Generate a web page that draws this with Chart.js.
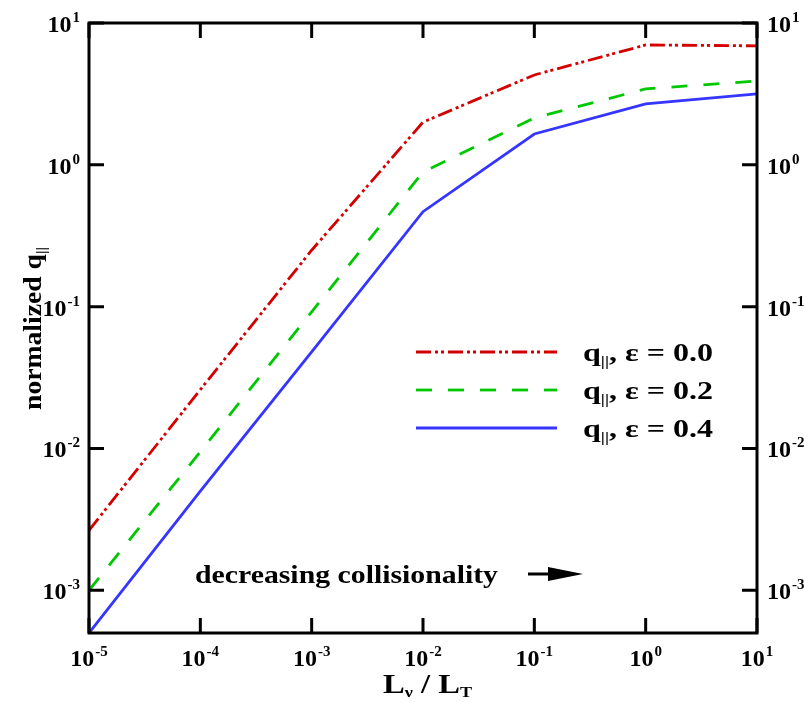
<!DOCTYPE html>
<html>
<head>
<meta charset="utf-8">
<script src="https://cdn.jsdelivr.net/npm/chart.js@4.4.0/dist/chart.umd.min.js"></script>
<style>
  html, body { margin: 0; padding: 0; background: #fff; }
  canvas { display: block; }
</style>
</head>
<body>
<canvas id="myChart" width="804" height="702"></canvas>
<script>
// L_nu / L_T sample points
const xValues = [1e-5, 1e-4, 1e-3, 1e-2, 1e-1, 1, 10];

// normalized q_par for each epsilon
const qEps00 = [2.65e-3, 0.026, 0.25, 2.0, 4.3, 7.0, 6.9];
const qEps02 = [1.0e-3, 0.0095, 0.092, 0.89, 2.14, 3.43, 3.9];
const qEps04 = [5.0e-4, 5.0e-3, 0.048, 0.467, 1.65, 2.69, 3.16];

const legendEps = ['0.0', '0.2', '0.4'];

// decade ticks (exponents)
const xTickExps = [-5, -4, -3, -2, -1, 0, 1];
const yTickExps = [-3, -2, -1, 0, 1];

const FONT = '"Liberation Serif", "Times New Roman", serif';
const BIG = 'bold 26px ' + FONT;
const SUB = 'bold 15px ' + FONT;

function toPoints(ys) {
    return xValues.map((x, i) => ({ x: x, y: ys[i] }));
}

// draws "10" with a superscript exponent
function drawPow(ctx, exp, x, y, align) {
    const baseFont = 'bold 24px ' + FONT;
    const supFont = 'bold 15px ' + FONT;
    ctx.font = baseFont;
    const wb = ctx.measureText('10').width;
    ctx.font = supFont;
    const ws = ctx.measureText(String(exp)).width + 1;
    const total = wb + ws;
    let left = x;
    if (align === 'center') left = x - total / 2;
    if (align === 'right') left = x - total;
    ctx.textAlign = 'left';
    ctx.textBaseline = 'alphabetic';
    ctx.font = baseFont;
    ctx.fillText('10', left, y);
    ctx.font = supFont;
    ctx.fillText(String(exp), left + wb + 1, y - 10);
}

// draws runs of text (with sub/superscripts) stretched to a given width
function drawRuns(ctx, runs, x, y, width) {
    let natural = 0;
    runs.forEach(r => { ctx.font = r.font; natural += ctx.measureText(r.text).width; });
    const sx = width ? width / natural : 1;
    ctx.save();
    ctx.translate(x, y);
    ctx.scale(sx, 1);
    ctx.textAlign = 'left';
    ctx.textBaseline = 'alphabetic';
    let cx = 0;
    runs.forEach(r => {
        ctx.font = r.font;
        ctx.fillText(r.text, cx, r.dy || 0);
        cx += ctx.measureText(r.text).width;
    });
    ctx.restore();
}

const framePlugin = {
    id: 'frame',
    afterDraw(chart) {
        const ctx = chart.ctx;
        const a = chart.chartArea;
        const xs = chart.scales.x;
        const ys = chart.scales.y;
        ctx.save();
        ctx.fillStyle = '#000';
        ctx.strokeStyle = '#000';

        // box
        ctx.lineWidth = 3;
        ctx.strokeRect(a.left, a.top, a.right - a.left, a.bottom - a.top);

        // inward ticks
        const tl = 15;
        ctx.beginPath();
        xTickExps.forEach(e => {
            const px = xs.getPixelForValue(Math.pow(10, e));
            ctx.moveTo(px, a.bottom); ctx.lineTo(px, a.bottom - tl);
            ctx.moveTo(px, a.top); ctx.lineTo(px, a.top + tl);
        });
        yTickExps.forEach(e => {
            const py = ys.getPixelForValue(Math.pow(10, e));
            ctx.moveTo(a.left, py); ctx.lineTo(a.left + tl, py);
            ctx.moveTo(a.right, py); ctx.lineTo(a.right - tl, py);
        });
        ctx.stroke();

        // tick labels
        xTickExps.forEach(e => {
            const px = xs.getPixelForValue(Math.pow(10, e));
            drawPow(ctx, e, px, a.bottom + 33, 'center');
        });
        yTickExps.forEach(e => {
            const py = ys.getPixelForValue(Math.pow(10, e));
            drawPow(ctx, e, a.left - 9, py + 9, 'right');
            drawPow(ctx, e, a.right + 10, py + 9, 'left');
        });

        // x title: L_nu / L_T
        drawRuns(ctx, [
            { text: 'L', font: 'bold 27px ' + FONT },
            { text: '\u03bd', font: SUB, dy: 4 },
            { text: ' / L', font: 'bold 27px ' + FONT },
            { text: 'T', font: SUB, dy: 4 }
        ], 383, a.bottom + 60, 89);

        // y title: normalized q_||
        ctx.save();
        ctx.translate(41, 410);
        ctx.rotate(-Math.PI / 2);
        drawRuns(ctx, [
            { text: 'normalized q', font: BIG },
            { text: '||', font: SUB, dy: 5 }
        ], 0, 0, 163);
        ctx.restore();

        // legend
        const lx0 = 416, lx1 = 557, tx = 583;
        const rows = [352, 390, 428];
        chart.data.datasets.forEach((ds, i) => {
            const y = rows[i];
            ctx.save();
            ctx.strokeStyle = ds.borderColor;
            ctx.lineWidth = ds.borderWidth;
            ctx.setLineDash(ds.borderDash || []);
            ctx.beginPath();
            ctx.moveTo(lx0, y); ctx.lineTo(lx1, y);
            ctx.stroke();
            ctx.restore();
            drawRuns(ctx, [
                { text: 'q', font: BIG },
                { text: '||', font: SUB, dy: 5 },
                { text: ', \u03b5 = ' + legendEps[i], font: BIG }
            ], tx, y + 9, 130);
        });

        // annotation
        drawRuns(ctx, [{ text: 'decreasing collisionality', font: BIG }], 195, 583, 303);
        ctx.lineWidth = 3;
        ctx.beginPath();
        ctx.moveTo(528, 574); ctx.lineTo(552, 574);
        ctx.stroke();
        ctx.beginPath();
        ctx.moveTo(583, 574); ctx.lineTo(548, 567); ctx.lineTo(548, 581);
        ctx.closePath();
        ctx.fill();

        ctx.restore();
    }
};

document.addEventListener('DOMContentLoaded', () => {
    const ctx = document.getElementById('myChart').getContext('2d');
    new Chart(ctx, {
        type: 'line',
        data: {
            datasets: [
                {
                    label: 'eps 0.0',
                    data: toPoints(qEps00),
                    borderColor: '#d40000',
                    borderWidth: 2.8,
                    borderDash: [15, 4, 3, 3, 3, 4],
                    pointRadius: 0,
                    fill: false
                },
                {
                    label: 'eps 0.2',
                    data: toPoints(qEps02),
                    borderColor: '#00c800',
                    borderWidth: 2.8,
                    borderDash: [16, 16],
                    pointRadius: 0,
                    fill: false
                },
                {
                    label: 'eps 0.4',
                    data: toPoints(qEps04),
                    borderColor: '#3535ff',
                    borderWidth: 2.8,
                    pointRadius: 0,
                    fill: false
                }
            ]
        },
        options: {
            responsive: false,
            animation: false,
            layout: { padding: { left: 89, right: 47, top: 23, bottom: 69 } },
            plugins: {
                legend: { display: false },
                tooltip: { enabled: false }
            },
            scales: {
                x: { type: 'logarithmic', min: 1e-5, max: 10, display: false },
                y: { type: 'logarithmic', min: 5e-4, max: 10, display: false }
            }
        },
        plugins: [framePlugin]
    });
});
</script>
</body>
</html>
